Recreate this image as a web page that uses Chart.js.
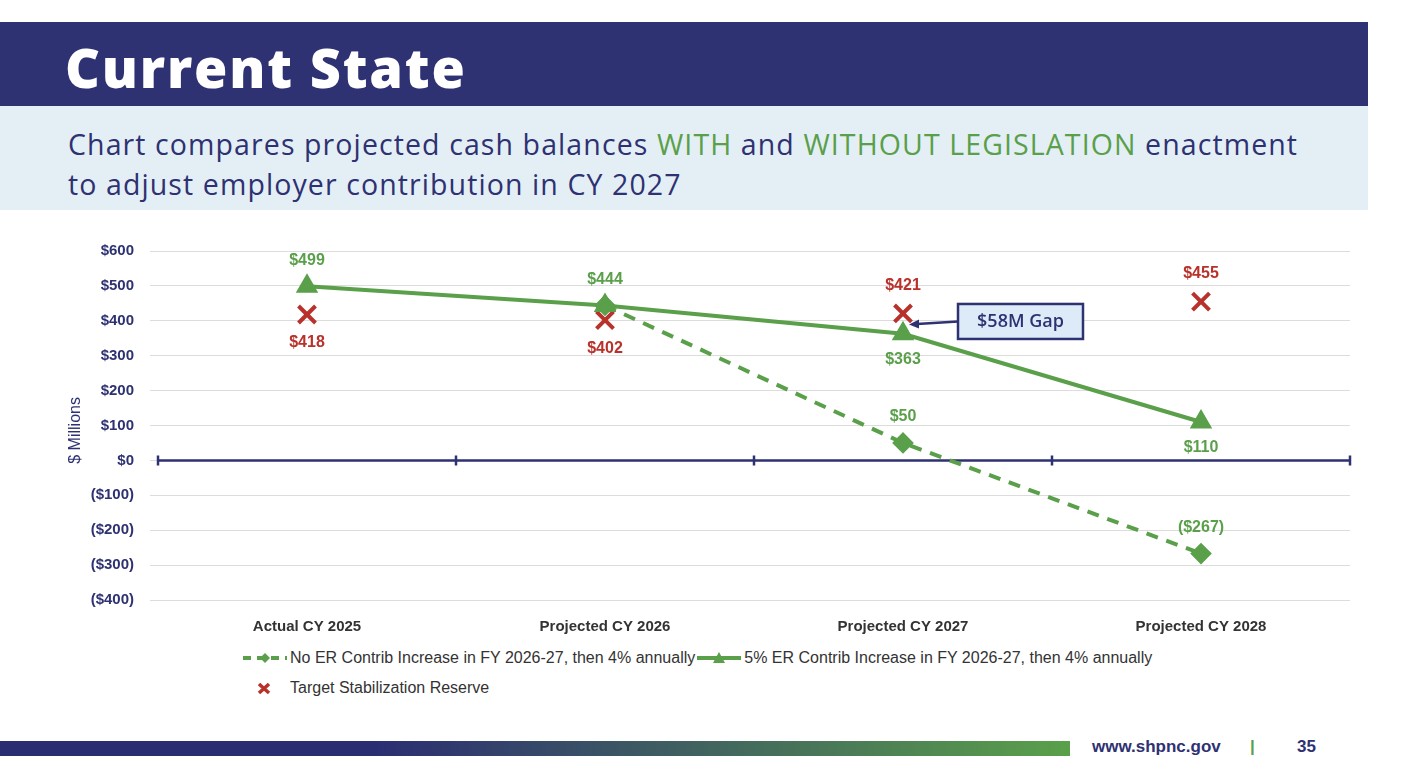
<!DOCTYPE html>
<html>
<head>
<meta charset="utf-8">
<script src="https://cdn.jsdelivr.net/npm/chart.js@4"></script>
<style>
  body { margin: 0; width: 1425px; height: 772px; background: #fff; position: relative; overflow: hidden; font-family: 'Liberation Sans', Arial, sans-serif; }
  .header { position: absolute; left: 0; top: 22px; width: 1368px; height: 84px; background: #2e3172; }
  .header h1 { margin: 0; position: absolute; left: 65px; top: 8px; color: #fff; font: 800 54px 'Open Sans', sans-serif; letter-spacing: 1.8px; }
  .sub { position: absolute; left: 0; top: 106px; width: 1368px; height: 104px; background: #e4eff5; }
  .sub p { margin: 0; position: absolute; left: 68px; top: 18px; color: #2e3172; font: 400 28.5px/40px 'Open Sans', sans-serif; letter-spacing: 1.1px; }
  .sub .g { color: #5a9f4a; }
  #wrap { position: absolute; left: 0; top: 226px; width: 1425px; height: 414px; }
  .legend { position: absolute; left: 243px; top: 643px; font: 16px 'Liberation Sans', Arial, sans-serif; color: #333; }
  .legend .row { height: 30px; display: flex; align-items: center; }
  .legend svg { margin-right: 3px; }
  .footbar { position: absolute; left: 0; top: 741px; width: 1070px; height: 15px; background: linear-gradient(90deg, #2b2d72 0%, #2b2d72 35%, #5aa04a 100%); }
  .foot { position: absolute; top: 737px; font: 700 17px 'Liberation Sans', Arial, sans-serif; color: #2e3172; }
</style>
</head>
<body>
<div class="header"><h1>Current State</h1></div>
<div class="sub"><p>Chart compares projected cash balances <span class="g">WITH</span> and <span class="g">WITHOUT LEGISLATION</span> enactment<br>to adjust employer contribution in CY 2027</p></div>
<div id="wrap"><canvas id="chart"></canvas></div>
<div class="legend">
  <div class="row"><svg width="44" height="12"><line x1="0" y1="6" x2="44" y2="6" stroke="#5a9f4a" stroke-width="4" stroke-dasharray="8,6"/><path d="M22 1 L27 6 L22 11 L17 6 Z" fill="#5a9f4a"/></svg>No ER Contrib Increase in FY 2026-27, then 4% annually
    <svg width="44" height="12" style="margin-left:2px"><line x1="0" y1="6" x2="44" y2="6" stroke="#5a9f4a" stroke-width="4"/><path d="M22 0 L28 11 L16 11 Z" fill="#5a9f4a"/></svg>5% ER Contrib Increase in FY 2026-27, then 4% annually</div>
  <div class="row"><svg width="44" height="14"><path d="M16 3 L26 12 M26 3 L16 12" stroke="#b8312a" stroke-width="3.5"/></svg>Target Stabilization Reserve</div>
</div>
<div class="footbar"></div>
<div class="foot" style="left:1092px">www.shpnc.gov</div>
<div class="foot" style="left:1250px;color:#5aa04a">|</div>
<div class="foot" style="left:1297px">35</div>
<script>
const categories = ['Actual CY 2025', 'Projected CY 2026', 'Projected CY 2027', 'Projected CY 2028'];
const noIncrease = [null, 444, 50, -267];
const withIncrease = [499, 444, 363, 110];
const targetReserve = [418, 402, 421, 455];
const yTicks = [600, 500, 400, 300, 200, 100, 0, -100, -200, -300, -400];

const GREEN = '#5a9f4a', RED = '#b8312a', NAVY = '#2e3172';

function money(v) {
    return v < 0 ? '($' + Math.abs(v) + ')' : '$' + v;
}

// placement of value labels: -1 above, 1 below
const withPos = [-1, -1, 1, 1];
const noPos = [0, 0, -1, -1];
const redPos = [1, 1, -1, -1];

const overlay = {
    id: 'overlay',
    beforeDatasetsDraw(chart) {
        const { ctx, chartArea, scales: { x, y } } = chart;
        const y0 = y.getPixelForValue(0);
        ctx.save();
        ctx.strokeStyle = NAVY;
        ctx.lineWidth = 2.5;
        ctx.beginPath();
        ctx.moveTo(chartArea.left, y0);
        ctx.lineTo(chartArea.right, y0);
        const step = (chartArea.right - chartArea.left) / categories.length;
        for (let i = 0; i <= categories.length; i++) {
            const px = chartArea.left + i * step;
            ctx.moveTo(px, y0 - 5);
            ctx.lineTo(px, y0 + 5);
        }
        ctx.stroke();
        // y title
        ctx.fillStyle = NAVY;
        ctx.font = '16px "Liberation Sans", Arial, sans-serif';
        ctx.translate(76, y0 - 30);
        ctx.rotate(-Math.PI / 2);
        ctx.textAlign = 'center';
        ctx.textBaseline = 'middle';
        ctx.fillText('$ Millions', 0, 0);
        ctx.restore();
    },
    afterDatasetsDraw(chart) {
        const { ctx, scales: { x, y } } = chart;
        ctx.save();
        ctx.font = 'bold 16px "Liberation Sans", Arial, sans-serif';
        ctx.textAlign = 'center';
        ctx.textBaseline = 'middle';
        const put = (vals, pos, color, off) => {
            vals.forEach((v, i) => {
                if (v === null || !pos[i]) return;
                ctx.fillStyle = color;
                ctx.fillText(money(v), x.getPixelForValue(i), y.getPixelForValue(v) + pos[i] * off);
            });
        };
        put(withIncrease, withPos, GREEN, 26);
        put(noIncrease, noPos, GREEN, 26);
        put(targetReserve, redPos, RED, 28);

        // gap callout
        const bx = 958, by = y.getPixelForValue(421) + 8, bw = 125, bh = 35;
        ctx.fillStyle = '#dcebf7';
        ctx.fillRect(bx, by - bh / 2, bw, bh);
        ctx.strokeStyle = NAVY;
        ctx.lineWidth = 2.5;
        ctx.strokeRect(bx, by - bh / 2, bw, bh);
        ctx.fillStyle = NAVY;
        ctx.font = '600 18px "Open Sans", sans-serif';
        ctx.fillText('$58M Gap', bx + bw / 2, by);
        const ax = x.getPixelForValue(2) + 6, ay = by + 3;
        ctx.beginPath();
        ctx.moveTo(bx, by);
        ctx.lineTo(ax + 8, ay - 0.5);
        ctx.stroke();
        ctx.beginPath();
        ctx.moveTo(ax, ay);
        ctx.lineTo(ax + 10, ay - 5);
        ctx.lineTo(ax + 10, ay + 4);
        ctx.closePath();
        ctx.fill();
        ctx.restore();
    }
};

new Chart(document.getElementById('chart'), {
    type: 'line',
    data: {
        labels: categories,
        datasets: [{
            label: 'Target Stabilization Reserve',
            data: targetReserve,
            showLine: false,
            pointStyle: 'crossRot',
            pointRadius: 12,
            pointBorderWidth: 4,
            borderColor: RED,
            backgroundColor: RED,
            order: 3
        }, {
            label: 'No ER Contrib Increase in FY 2026-27, then 4% annually',
            data: noIncrease,
            borderColor: GREEN,
            backgroundColor: GREEN,
            borderWidth: 4,
            borderDash: [12, 9],
            pointStyle: 'rectRot',
            pointRadius: 8,
            order: 1
        }, {
            label: '5% ER Contrib Increase in FY 2026-27, then 4% annually',
            data: withIncrease,
            borderColor: GREEN,
            backgroundColor: GREEN,
            borderWidth: 4,
            pointStyle: 'triangle',
            pointRadius: 9,
            order: 2
        }]
    },
    options: {
        responsive: true,
        maintainAspectRatio: false,
        animation: false,
        layout: { padding: { left: 50, right: 75, top: 16, bottom: 0 } },
        plugins: { legend: { display: false }, tooltip: { enabled: false } },
        scales: {
            x: {
                offset: true,
                grid: { display: false },
                border: { display: false },
                ticks: {
                    color: '#333',
                    padding: 10,
                    font: { family: "'Liberation Sans', Arial, sans-serif", size: 15, weight: 'bold' }
                },
                afterFit(s) { s.height = 40; }
            },
            y: {
                min: -400,
                max: 600,
                afterBuildTicks(s) { s.ticks = yTicks.map(v => ({ value: v })); },
                grid: { color: '#dcdcdc', lineWidth: 1 },
                border: { display: false },
                ticks: {
                    color: NAVY,
                    padding: 16,
                    callback: v => money(v),
                    font: { family: "'Liberation Sans', Arial, sans-serif", size: 15, weight: 'bold' }
                },
                afterFit(s) { s.width = 108; }
            }
        }
    },
    plugins: [overlay]
});
</script>
</body>
</html>
